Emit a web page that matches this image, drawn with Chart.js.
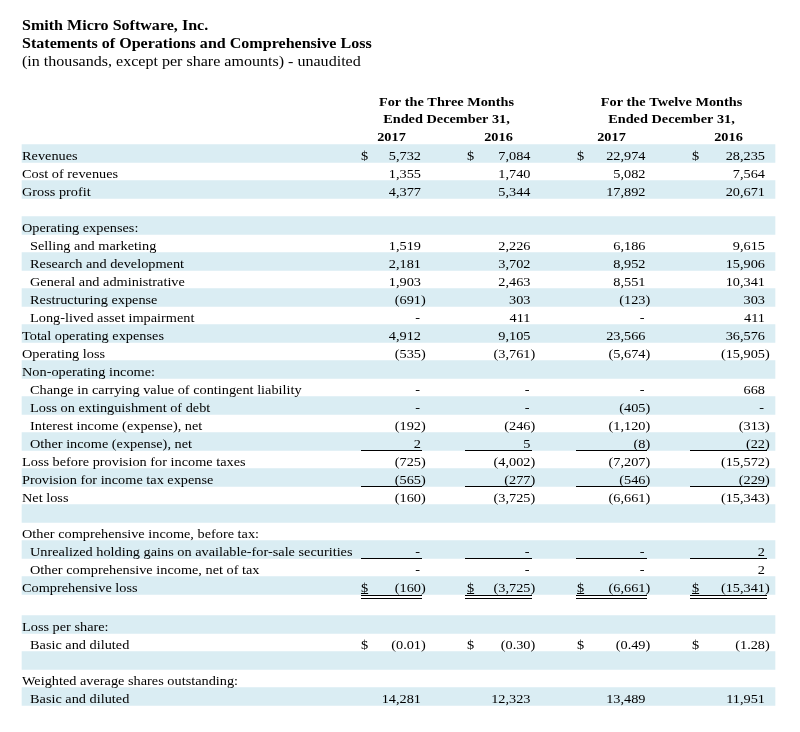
<!DOCTYPE html>
<html>
<head>
<meta charset="utf-8">
<script src="https://cdn.jsdelivr.net/npm/chart.js@4/dist/chart.umd.min.js"></script>
<style>
  html, body { margin: 0; padding: 0; background: #ffffff; }
  #wrap { width: 800px; height: 732px; position: relative; }
</style>
</head>
<body>
<div id="wrap"><canvas id="c"></canvas></div>
<script>
// ---------------- DATA ----------------
const titleLines = ["Smith Micro Software, Inc.", "Statements of Operations and Comprehensive Loss", "(in thousands, except per share amounts) - unaudited"];
const groupHeaders = [["For the Three Months", "Ended December 31,"], ["For the Twelve Months", "Ended December 31,"]];
const yearHeaders = ["2017", "2016", "2017", "2016"];

const rowLabels = [
  "Revenues", "Cost of revenues", "Gross profit", "",
  "Operating expenses:", "Selling and marketing", "Research and development", "General and administrative",
  "Restructuring expense", "Long-lived asset impairment", "Total operating expenses", "Operating loss",
  "Non-operating income:", "Change in carrying value of contingent liability", "Loss on extinguishment of debt",
  "Interest income (expense), net", "Other income (expense), net", "Loss before provision for income taxes",
  "Provision for income tax expense", "Net loss", "",
  "Other comprehensive income, before tax:", "Unrealized holding gains on available-for-sale securities",
  "Other comprehensive income, net of tax", "Comprehensive loss", "",
  "Loss per share:", "Basic and diluted", "",
  "Weighted average shares outstanding:", "Basic and diluted"
];
const indentedRows = [5, 6, 7, 8, 9, 13, 14, 15, 16, 22, 23, 27, 30];
const dollarRows = [0, 24, 27];
const perShareRows = [27];
const singleUnderlineRows = [16, 18, 22];
const doubleUnderlineRows = [24];

// 0 is shown as "-", null is blank
const threeMonths2017 = [5732, 1355, 4377, null, null, 1519, 2181, 1903, -691, 0, 4912, -535, null, 0, 0, -192, 2, -725, -565, -160, null, null, 0, 0, -160, null, null, -0.01, null, null, 14281];
const threeMonths2016 = [7084, 1740, 5344, null, null, 2226, 3702, 2463, 303, 411, 9105, -3761, null, 0, 0, -246, 5, -4002, -277, -3725, null, null, 0, 0, -3725, null, null, -0.30, null, null, 12323];
const twelveMonths2017 = [22974, 5082, 17892, null, null, 6186, 8952, 8551, -123, 0, 23566, -5674, null, 0, -405, -1120, -8, -7207, -546, -6661, null, null, 0, 0, -6661, null, null, -0.49, null, null, 13489];
const twelveMonths2016 = [28235, 7564, 20671, null, null, 9615, 15906, 10341, 303, 411, 36576, -15905, null, 668, 0, -313, -22, -15572, -229, -15343, null, null, 2, 2, -15341, null, null, -1.28, null, null, 11951];
const columns = [threeMonths2017, threeMonths2016, twelveMonths2017, twelveMonths2016];

// ---------------- LAYOUT ----------------
const W = 800, H = 732;
const ROW_PX = 18, ROW0_PX = 153.5;
const GAP_AFTER_ROW = 24, GAP_PX = 3;
const TABLE_LEFT = 22, TABLE_RIGHT = 775, INDENT = 8;
const NUM_RIGHT = [421, 530.5, 645.5, 765];
const DOLLAR_LEFT = [361, 467, 577, 692];
const UL_LEFT = [361, 465, 576, 690];
const UL_RIGHT = [422, 532, 647, 767];
const SHADE = "#daedf3";
const INK = "#000000";
const SERIF = "'Liberation Serif', 'Times New Roman', serif";
const BODY_STRETCH = 1.1, TITLE_STRETCH = 1.07;

function rowPos(k) { return k + (k > GAP_AFTER_ROW ? GAP_PX / ROW_PX : 0); }

const yMin = -ROW0_PX / ROW_PX;
const yMax = yMin + H / ROW_PX;

const shadeData = [];
const shadeColors = [];
rowLabels.forEach((_, k) => {
  shadeData.push({ y: rowPos(k), x: [TABLE_LEFT, TABLE_RIGHT] });
  shadeColors.push(k % 2 === 0 ? SHADE : "rgba(0,0,0,0)");
});

function fmtNum(v, perShare) {
  const a = Math.abs(v);
  return perShare ? a.toFixed(2) : a.toLocaleString("en-US");
}

// draw text stretched horizontally (reference glyphs are wider than the metric-compatible font)
function drawText(ctx, text, x, y, align, sx) {
  const w = ctx.measureText(text).width * sx;
  let left = x;
  if (align === "right") left = x - w;
  else if (align === "center") left = x - w / 2;
  ctx.save();
  ctx.translate(left, y);
  ctx.scale(sx, 1);
  ctx.textAlign = "left";
  ctx.fillText(text, 0, 0);
  ctx.restore();
  return w;
}

const tablePlugin = {
  id: "tableText",
  afterDatasetsDraw(chart) {
    const ctx = chart.ctx;
    const xs = chart.scales.x, ys = chart.scales.y;
    const px = v => xs.getPixelForValue(v);
    const py = v => ys.getPixelForValue(v);
    ctx.save();
    ctx.fillStyle = INK;
    ctx.strokeStyle = INK;
    ctx.textBaseline = "alphabetic";

    // title
    ctx.font = "bold 15px " + SERIF;
    drawText(ctx, titleLines[0], px(TABLE_LEFT), 30, "left", TITLE_STRETCH);
    drawText(ctx, titleLines[1], px(TABLE_LEFT), 48, "left", TITLE_STRETCH);
    ctx.font = "15px " + SERIF;
    drawText(ctx, titleLines[2], px(TABLE_LEFT), 66, "left", TITLE_STRETCH);

    // headers
    ctx.font = "bold 13px " + SERIF;
    groupHeaders.forEach((g, gi) => {
      const cx = (px(UL_LEFT[gi * 2]) + px(UL_RIGHT[gi * 2 + 1])) / 2;
      drawText(ctx, g[0], cx, 106, "center", BODY_STRETCH);
      drawText(ctx, g[1], cx, 123, "center", BODY_STRETCH);
    });
    yearHeaders.forEach((t, i) => {
      const cx = (px(UL_LEFT[i]) + px(UL_RIGHT[i])) / 2;
      drawText(ctx, t, cx, 141, "center", BODY_STRETCH);
    });

    // rows
    ctx.font = "13px " + SERIF;
    const parenW = ctx.measureText(")").width * BODY_STRETCH;
    const dollarW = ctx.measureText("$").width * BODY_STRETCH;
    rowLabels.forEach((label, k) => {
      const yc = py(rowPos(k));
      const base = yc + 6;
      const lx = px(TABLE_LEFT + (indentedRows.includes(k) ? INDENT : 0));
      if (label) drawText(ctx, label, lx, base, "left", BODY_STRETCH);

      columns.forEach((col, ci) => {
        const v = col[k];
        if (v === null || v === undefined) return;
        const right = px(NUM_RIGHT[ci]);
        const ps = perShareRows.includes(k);
        if (v === 0) {
          drawText(ctx, "-", right - 1, base, "right", BODY_STRETCH);
        } else if (v < 0) {
          drawText(ctx, "(" + fmtNum(v, ps) + ")", right + parenW, base, "right", BODY_STRETCH);
        } else {
          drawText(ctx, fmtNum(v, ps), right, base, "right", BODY_STRETCH);
        }
        if (dollarRows.includes(k)) {
          const dx = px(DOLLAR_LEFT[ci]);
          drawText(ctx, "$", dx, base, "left", BODY_STRETCH);
          if (doubleUnderlineRows.includes(k)) {
            ctx.lineWidth = 1;
            ctx.beginPath();
            ctx.moveTo(dx, Math.round(base) + 1.5);
            ctx.lineTo(dx + dollarW, Math.round(base) + 1.5);
            ctx.stroke();
          }
        }
        ctx.lineWidth = 1;
        const l = px(UL_LEFT[ci]), r = px(UL_RIGHT[ci]);
        if (singleUnderlineRows.includes(k)) {
          const uy = Math.round(yc + 9) - 0.5;
          ctx.beginPath(); ctx.moveTo(l, uy); ctx.lineTo(r, uy); ctx.stroke();
        }
        if (doubleUnderlineRows.includes(k)) {
          const uy = Math.round(yc + 9) + 0.5;
          ctx.beginPath(); ctx.moveTo(l, uy); ctx.lineTo(r, uy); ctx.stroke();
          ctx.beginPath(); ctx.moveTo(l, uy + 3); ctx.lineTo(r, uy + 3); ctx.stroke();
        }
      });
    });
    ctx.restore();
  }
};

new Chart(document.getElementById("c"), {
  type: "bar",
  data: {
    datasets: [{
      label: "row shading",
      data: shadeData,
      backgroundColor: shadeColors,
      borderWidth: 0,
      barThickness: ROW_PX,
      grouped: false
    }]
  },
  options: {
    indexAxis: "y",
    responsive: true,
    maintainAspectRatio: false,
    animation: false,
    events: [],
    layout: { padding: 0 },
    plugins: { legend: { display: false }, title: { display: false }, tooltip: { enabled: false } },
    scales: {
      x: { type: "linear", min: 0, max: W, display: false, offset: false },
      y: { type: "linear", min: yMin, max: yMax, reverse: true, display: false, offset: false }
    }
  },
  plugins: [tablePlugin]
});
</script>
</body>
</html>
